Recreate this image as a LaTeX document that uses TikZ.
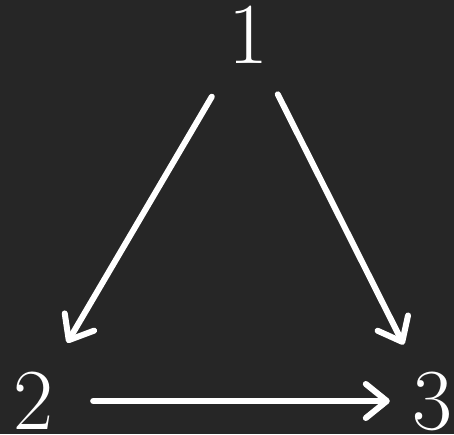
\documentclass[tikz,border=0pt]{standalone}
\usetikzlibrary{arrows.meta}
\definecolor{bgdark}{RGB}{38,38,38}
\begin{document}
\begin{tikzpicture}[
 x=1pt,y=1pt,
 vertex/.style={inner sep=0pt,text=white,
  font=\fontsize{87}{100}\selectfont},
 link/.style={white,line width=6pt,line cap=round,
  -{Straight Barb[round,length=21pt,width=34pt]}}
]
 \fill[bgdark] (0,0) rectangle (454,434);
 \useasboundingbox (0,0) rectangle (454,434);

 \node[vertex] (n1) at (248,399) {1};
 \node[vertex] (n2) at (33,33) {2};
 \node[vertex] (n3) at (432,33) {3};

 \draw[link,shorten <=38pt,shorten >=34pt] (n1) -- (n2);
 \draw[link,shorten <=34pt,shorten >=30pt] (n1) -- (n3);
 \draw[link,shorten <=40pt,shorten >=22pt] (n2) -- (n3);
\end{tikzpicture}
\end{document}
